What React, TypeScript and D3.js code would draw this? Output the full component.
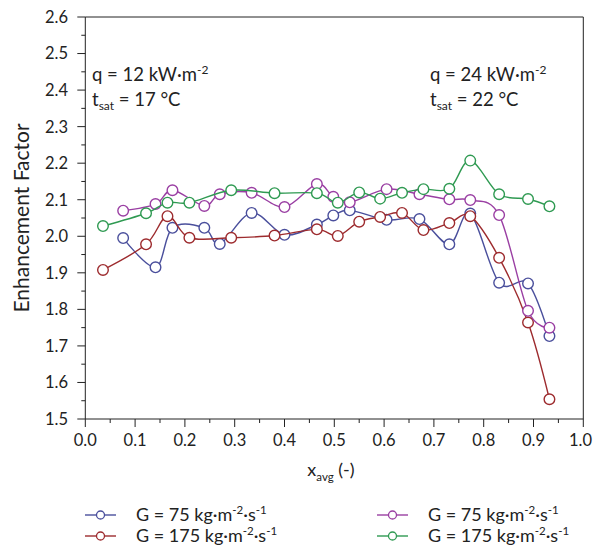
import React from "react";
import * as d3 from "d3";

const W = 593;
const H = 550;

const xBlue = [0.076, 0.141, 0.175, 0.239, 0.270, 0.334, 0.400, 0.465, 0.498, 0.531, 0.605, 0.671, 0.731, 0.773, 0.831, 0.889, 0.932];
const yBlue = [1.995, 1.915, 2.023, 2.023, 1.979, 2.064, 2.004, 2.032, 2.057, 2.071, 2.045, 2.047, 1.978, 2.062, 1.873, 1.871, 1.727];
const xPurple = xBlue;
const yPurple = [2.070, 2.088, 2.126, 2.083, 2.115, 2.119, 2.080, 2.143, 2.108, 2.093, 2.129, 2.115, 2.101, 2.099, 2.058, 1.796, 1.750];
const xRed = [0.0355, 0.122, 0.165, 0.209, 0.293, 0.380, 0.465, 0.507, 0.550, 0.592, 0.636, 0.679, 0.731, 0.773, 0.831, 0.889, 0.932];
const yRed = [1.908, 1.978, 2.055, 1.996, 1.996, 2.002, 2.019, 2.001, 2.040, 2.053, 2.064, 2.017, 2.036, 2.055, 1.941, 1.764, 1.554];
const xGreen = xRed;
const yGreen = [2.028, 2.063, 2.092, 2.092, 2.126, 2.118, 2.118, 2.092, 2.120, 2.103, 2.119, 2.129, 2.130, 2.207, 2.115, 2.102, 2.082];

const seriesNames = ["G = 75 kg·m", "G = 175 kg·m", "G = 75 kg·m", "G = 175 kg·m"];
const colors = ["#4a4f9c", "#9d2b2e", "#9a3fa3", "#2f9a52"];

const xTicks = [0, 0.1, 0.2, 0.3, 0.4, 0.5, 0.6, 0.7, 0.8, 0.9, 1.0];
const yTicks = [1.5, 1.6, 1.7, 1.8, 1.9, 2.0, 2.1, 2.2, 2.3, 2.4, 2.5, 2.6];

const FONT = "Lato, 'Open Sans', sans-serif";

export default function App() {
  const left = 85.3, right = 583.3, top = 17, bottom = 419;
  const x = d3.scaleLinear().domain([0, 1]).range([left, right]);
  const y = d3.scaleLinear().domain([1.5, 2.6]).range([bottom, top]);

  const series = [
    { xs: xBlue, ys: yBlue, c: colors[0] },
    { xs: xRed, ys: yRed, c: colors[1] },
    { xs: xPurple, ys: yPurple, c: colors[2] },
    { xs: xGreen, ys: yGreen, c: colors[3] },
  ];

  const line = d3
    .line<[number, number]>()
    .x((d) => x(d[0]))
    .y((d) => y(d[1]))
    .curve(d3.curveCardinal.tension(0));

  const xMinor = d3.range(0, 1.0001, 0.05);
  const yMinor = d3.range(1.5, 2.6001, 0.05);

  const legendItems = [
    { name: seriesNames[0], c: colors[0], lx: 85, tx: 136, ly: 515 },
    { name: seriesNames[1], c: colors[1], lx: 85, tx: 136, ly: 536 },
    { name: seriesNames[2], c: colors[2], lx: 377, tx: 428, ly: 515 },
    { name: seriesNames[3], c: colors[3], lx: 377, tx: 428, ly: 536 },
  ];

  const axisColor = "#222";

  return (
    <>
      <style>{`body{margin:0}`}</style>
      <svg width={W} height={H} style={{ display: "block", background: "#fff" }} fontFamily={FONT}>
        {/* frame */}
        <line x1={left} x2={right} y1={top} y2={top} stroke={axisColor} strokeWidth={1} />
        <line x1={right} x2={right} y1={top} y2={bottom} stroke={axisColor} strokeWidth={1} />
        <line x1={left} x2={left} y1={top} y2={bottom} stroke={axisColor} strokeWidth={1} />
        <line x1={left} x2={right} y1={bottom} y2={bottom} stroke={axisColor} strokeWidth={1} />

        {/* y ticks */}
        {yMinor.map((v, i) => (
          <line key={"ym" + i} x1={left} x2={left - (i % 2 === 0 ? 8 : 4)} y1={y(v)} y2={y(v)} stroke={axisColor} />
        ))}
        {yTicks.map((v) => (
          <text key={"yt" + v} x={68} y={y(v)} dy="0.36em" textAnchor="end" fontSize={16.5} fill="#222">
            {v.toFixed(1)}
          </text>
        ))}
        {/* x ticks */}
        {xMinor.map((v, i) => (
          <line key={"xm" + i} x1={x(v)} x2={x(v)} y1={bottom} y2={bottom + (i % 2 === 0 ? 8 : 4)} stroke={axisColor} />
        ))}
        {xTicks.map((v) => {
          const last = v === 1.0;
          return (
            <text
              key={"xt" + v}
              x={last ? W - 1 : x(v)}
              y={446}
              textAnchor={last ? "end" : "middle"}
              fontSize={16.5}
              fill="#222"
            >
              {v.toFixed(1)}
            </text>
          );
        })}

        {/* axis titles */}
        <text transform={`translate(29,${(top + bottom) / 2}) rotate(-90)`} textAnchor="middle" fontSize={21} fill="#222">
          Enhancement Factor
        </text>
        <text x={331} y={476} textAnchor="middle" fontSize={18} fill="#222">
          x<tspan fontSize={11.5} dy={5}>avg</tspan>
          <tspan dy={-5}> (-)</tspan>
        </text>

        {/* annotations */}
        {[
          { tx: 92, q: "12", t: "17" },
          { tx: 430, q: "24", t: "22" },
        ].map((a) => (
          <g key={a.q}>
            <text x={a.tx} y={81} fontSize={18.5} fill="#222">
              q = {a.q} kW·m<tspan fontSize={12} dy={-7}>-2</tspan>
            </text>
            <text x={a.tx} y={106} fontSize={18.5} fill="#222">
              t<tspan fontSize={12} dy={4}>sat</tspan>
              <tspan dy={-4}> = {a.t} °C</tspan>
            </text>
          </g>
        ))}

        {/* series */}
        {series.map((s, si) => {
          const pts: [number, number][] = s.xs.map((xv, i) => [xv, s.ys[i]]);
          return (
            <g key={"s" + si}>
              <path d={line(pts) || ""} fill="none" stroke={s.c} strokeWidth={1.4} />
              {pts.map((p, i) => (
                <circle key={i} cx={x(p[0])} cy={y(p[1])} r={5.3} fill="#fff" stroke={s.c} strokeWidth={1.4} />
              ))}
            </g>
          );
        })}

        {/* legend */}
        {legendItems.map((l, i) => (
          <g key={"l" + i}>
            <line x1={l.lx} x2={l.lx + 31} y1={l.ly} y2={l.ly} stroke={l.c} strokeWidth={1.4} />
            <circle cx={l.lx + 15.5} cy={l.ly} r={4} fill="#fff" stroke={l.c} strokeWidth={1.3} />
            <text x={l.tx} y={l.ly} dy="0.36em" fontSize={18} fill="#222">
              {l.name}
              <tspan fontSize={11.5} dy={-7}>-2</tspan>
              <tspan dy={7}>·s</tspan>
              <tspan fontSize={11.5} dy={-7}>-1</tspan>
            </text>
          </g>
        ))}
      </svg>
    </>
  );
}
